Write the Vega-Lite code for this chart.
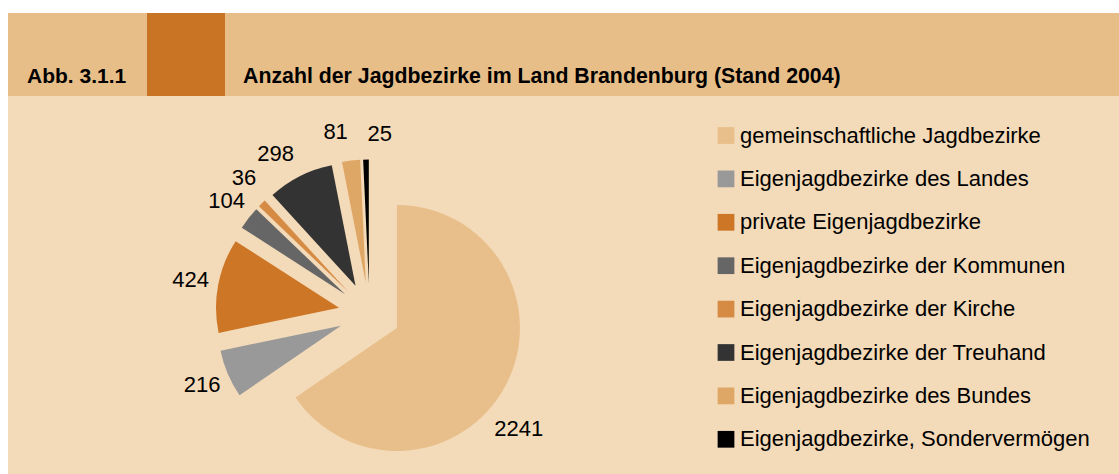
{
  "$schema": "https://vega.github.io/schema/vega-lite/v6.json",
  "background": "white",
  "padding": {"left": 8, "top": 13, "right": 0, "bottom": 0},
  "config": {
    "view": {"stroke": null},
    "concat": {"spacing": 0},
    "font": "Liberation Sans, Arial, sans-serif"
  },
  "spacing": 0,
  "vconcat": [
    {
      "spacing": 0,
      "bounds": "flush",
      "hconcat": [
        {
          "width": 139,
          "height": 83,
          "view": {"fill": "#E8BE88", "stroke": null},
          "data": {"values": [{"t": "Abb. 3.1.1"}]},
          "mark": {"type": "text", "align": "left", "baseline": "alphabetic", "dx": 19, "dy": 28, "font": "Liberation Sans, Arial, sans-serif", "fontSize": 21, "fontWeight": "bold", "color": "#000000"},
          "encoding": {
            "text": {"field": "t"},
            "x": {"field": "t", "type": "nominal", "axis": null, "bandPosition": 0, "scale": {"type": "band", "paddingInner": 0, "paddingOuter": 0}}
          }
        },
        {
          "width": 78,
          "height": 83,
          "view": {"fill": "#C97324", "stroke": null},
          "data": {"values": [{}]},
          "mark": {"type": "rect", "color": "#C97324"},
          "encoding": {}
        },
        {
          "width": 894,
          "height": 83,
          "view": {"fill": "#E8BE88", "stroke": null},
          "data": {"values": [{"t": "Anzahl der Jagdbezirke im Land Brandenburg (Stand 2004)"}]},
          "mark": {"type": "text", "align": "left", "baseline": "alphabetic", "dx": 18, "dy": 28, "font": "Liberation Sans, Arial, sans-serif", "fontSize": 21.3, "fontWeight": "bold", "color": "#000000"},
          "encoding": {
            "text": {"field": "t"},
            "x": {"field": "t", "type": "nominal", "axis": null, "bandPosition": 0, "scale": {"type": "band", "paddingInner": 0, "paddingOuter": 0}}
          }
        }
      ]
    },
    {
      "width": 1111,
      "height": 378,
      "view": {"fill": "#F3DAB8", "stroke": null},
      "data": {
        "values": [
          {"name": "gemeinschaftliche Jagdbezirke", "value": 2241},
          {"name": "Eigenjagdbezirke des Landes", "value": 216},
          {"name": "private Eigenjagdbezirke", "value": 424},
          {"name": "Eigenjagdbezirke der Kommunen", "value": 104},
          {"name": "Eigenjagdbezirke der Kirche", "value": 36},
          {"name": "Eigenjagdbezirke der Treuhand", "value": 298},
          {"name": "Eigenjagdbezirke des Bundes", "value": 81},
          {"name": "Eigenjagdbezirke, Sondervermögen", "value": 25}
        ]
      },
      "transform": [
        {"window": [{"op": "row_number", "as": "idx"}]},
        {"window": [{"op": "sum", "field": "value", "as": "cum"}], "sort": [{"field": "idx"}], "frame": [null, 0]},
        {"joinaggregate": [{"op": "sum", "field": "value", "as": "total"}]},
        {"calculate": "(datum.cum - datum.value) / datum.total", "as": "f0"},
        {"calculate": "datum.cum / datum.total", "as": "f1"},
        {"calculate": "(datum.cum - datum.value / 2) / datum.total", "as": "fm"},
        {"calculate": "sin(2 * PI * datum.fm)", "as": "ox"},
        {"calculate": "cos(2 * PI * datum.fm)", "as": "oy"}
      ],
      "encoding": {
        "x": {"field": "ox", "type": "quantitative", "axis": null, "scale": {"domain": [-11.661, 24.177], "nice": false, "zero": false}},
        "y": {"field": "oy", "type": "quantitative", "axis": null, "scale": {"domain": [-5.177, 7.016], "nice": false, "zero": false}}
      },
      "layer": [
        {
          "mark": {"type": "arc", "radius": 123, "radius2": 0, "strokeWidth": 0},
          "encoding": {
            "theta": {"field": "f0", "type": "quantitative", "stack": null, "scale": {"domain": [0, 1], "nice": false, "zero": false}},
            "theta2": {"field": "f1"},
            "color": {
              "field": "name",
              "type": "nominal",
              "scale": {
                "domain": ["gemeinschaftliche Jagdbezirke", "Eigenjagdbezirke des Landes", "private Eigenjagdbezirke", "Eigenjagdbezirke der Kommunen", "Eigenjagdbezirke der Kirche", "Eigenjagdbezirke der Treuhand", "Eigenjagdbezirke des Bundes", "Eigenjagdbezirke, Sondervermögen"],
                "range": ["#E8BF8A", "#999999", "#CC7626", "#666666", "#D68B45", "#333333", "#DFA766", "#000000"]
              },
              "legend": {
                "orient": "none",
                "legendX": 707,
                "legendY": 111.5,
                "title": null,
                "symbolType": "square",
                "symbolSize": 280,
                "symbolStrokeWidth": 0,
                "symbolOpacity": 1,
                "labelFont": "Liberation Sans, Arial, sans-serif",
                "labelFontSize": 22,
                "labelColor": "#000000",
                "labelLimit": 500,
                "labelOffset": 3,
                "rowPadding": 21.4,
                "padding": 0
              }
            }
          }
        },
        {
          "transform": [{"filter": {"field": "name", "oneOf": ["Eigenjagdbezirke des Landes", "private Eigenjagdbezirke", "Eigenjagdbezirke der Kommunen"]}}],
          "mark": {"type": "text", "radius": 151, "align": "center", "baseline": "middle", "fontSize": 22, "color": "#000000"},
          "encoding": {
            "theta": {"field": "fm", "type": "quantitative", "stack": null},
            "text": {"field": "value", "type": "quantitative", "format": "d"}
          }
        },
        {
          "transform": [{"filter": {"field": "name", "equal": "Eigenjagdbezirke der Kirche"}}],
          "mark": {"type": "text", "radius": 154, "thetaOffset": 0.035, "align": "center", "baseline": "middle", "fontSize": 22, "color": "#000000"},
          "encoding": {
            "theta": {"field": "fm", "type": "quantitative", "stack": null},
            "text": {"field": "value", "type": "quantitative", "format": "d"}
          }
        },
        {
          "transform": [{"filter": {"field": "name", "oneOf": ["Eigenjagdbezirke der Treuhand", "Eigenjagdbezirke des Bundes"]}}],
          "mark": {"type": "text", "radius": 154, "thetaOffset": -0.077, "align": "center", "baseline": "middle", "fontSize": 22, "color": "#000000"},
          "encoding": {
            "theta": {"field": "fm", "type": "quantitative", "stack": null},
            "text": {"field": "value", "type": "quantitative", "format": "d"}
          }
        },
        {
          "transform": [{"filter": {"field": "name", "equal": "Eigenjagdbezirke, Sondervermögen"}}],
          "mark": {"type": "text", "radius": 149, "thetaOffset": 0.096, "align": "center", "baseline": "middle", "fontSize": 22, "color": "#000000"},
          "encoding": {
            "theta": {"field": "fm", "type": "quantitative", "stack": null},
            "text": {"field": "value", "type": "quantitative", "format": "d"}
          }
        },
        {
          "transform": [{"filter": {"field": "name", "equal": "gemeinschaftliche Jagdbezirke"}}],
          "mark": {"type": "text", "radius": 158, "thetaOffset": 0.206, "align": "center", "baseline": "middle", "fontSize": 22, "color": "#000000"},
          "encoding": {
            "theta": {"field": "fm", "type": "quantitative", "stack": null},
            "text": {"field": "value", "type": "quantitative", "format": "d"}
          }
        }
      ]
    }
  ]
}
